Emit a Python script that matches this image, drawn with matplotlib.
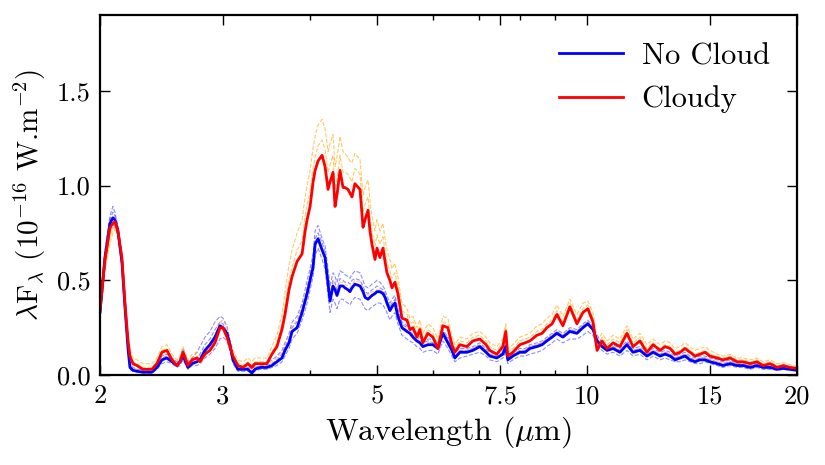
import matplotlib
matplotlib.use('Agg')
import matplotlib.pyplot as plt
from matplotlib.ticker import FixedLocator, NullFormatter

plt.rcParams['font.family'] = 'serif'
plt.rcParams['font.serif'] = ['cmr10', 'DejaVu Serif']
plt.rcParams['mathtext.fontset'] = 'cm'
plt.rcParams['axes.formatter.use_mathtext'] = True

# wavelength grid (micron)
wave = [2.000, 2.033, 2.067, 2.087, 2.101, 2.122, 2.150, 2.172, 2.194, 2.208,
        2.230, 2.260, 2.305, 2.374, 2.414, 2.454, 2.495, 2.537, 2.579, 2.605,
        2.631, 2.675, 2.710, 2.755, 2.782, 2.829, 2.876, 2.924, 2.973, 3.002,
        3.042, 3.072, 3.103, 3.154, 3.207, 3.260, 3.303, 3.336, 3.392, 3.471,
        3.529, 3.588, 3.648, 3.685, 3.734, 3.772, 3.835, 3.899, 3.938, 3.964,
        4.003, 4.043, 4.070, 4.110, 4.165, 4.206, 4.248, 4.276, 4.318, 4.347,
        4.375, 4.419, 4.463, 4.492, 4.537, 4.567, 4.597, 4.642, 4.721, 4.768,
        4.800, 4.847, 4.879, 4.911, 4.960, 4.993, 5.042, 5.093, 5.127, 5.160,
        5.211, 5.246, 5.298, 5.350, 5.422, 5.512, 5.567, 5.622, 5.696, 5.753,
        5.810, 5.906, 6.005, 6.105, 6.207, 6.311, 6.395, 6.458, 6.566, 6.719,
        6.853, 7.012, 7.158, 7.248, 7.417, 7.566, 7.641, 7.692, 7.820, 8.004,
        8.144, 8.272, 8.466, 8.614, 8.750, 8.903, 9.045, 9.227, 9.443, 9.664,
        9.858, 10.02, 10.19, 10.33, 10.50, 10.68, 10.89, 11.14, 11.40, 11.63,
        11.90, 12.18, 12.43, 12.72, 12.93, 13.15, 13.37, 13.59, 13.81, 14.04,
        14.28, 14.51, 14.76, 14.99, 15.36, 15.65, 16.03, 16.40, 16.73, 17.12,
        17.52, 17.87, 18.30, 18.72, 19.10, 19.54, 20.00]

# mean spectra
no_cloud = [.33, .62, .80, .83, .82, .76, .60, .36, .14, .04,
            .025, .02, .015, .015, .04, .08, .09, .07, .05, .07,
            .10, .04, .06, .07, .08, .13, .16, .20, .26, .25,
            .22, .16, .08, .03, .03, .03, .01, .03, .04, .04,
            .05, .07, .09, .13, .17, .23, .25, .33, .39, .43,
            .50, .57, .69, .72, .66, .62, .48, .39, .47, .45,
            .42, .47, .47, .46, .45, .44, .46, .48, .47, .44,
            .41, .40, .41, .42, .43, .44, .44, .43, .41, .38,
            .34, .36, .38, .31, .25, .23, .22, .20, .18, .17,
            .15, .16, .16, .14, .22, .17, .13, .09, .12, .12,
            .13, .15, .12, .10, .09, .11, .15, .08, .10, .12,
            .12, .14, .15, .16, .18, .20, .22, .20, .23, .22,
            .25, .27, .24, .18, .15, .13, .14, .12, .16, .12,
            .13, .10, .12, .10, .11, .10, .08, .09, .10, .08,
            .07, .08, .08, .07, .06, .05, .06, .05, .05, .04,
            .05, .04, .04, .03, .035, .03, .025]

cloudy = [.34, .61, .78, .80, .81, .76, .62, .38, .18, .10,
          .06, .05, .03, .03, .06, .12, .13, .08, .05, .07,
          .12, .05, .08, .09, .07, .11, .13, .17, .25, .25,
          .20, .15, .10, .05, .04, .06, .04, .06, .06, .06,
          .11, .15, .24, .32, .45, .52, .60, .64, .76, .82,
          .89, 1.02, 1.08, 1.13, 1.16, 1.10, .98, 1.02, 1.07, .89,
          .95, 1.08, .99, .99, .98, .96, .94, 1.01, .98, .78,
          .82, .87, .76, .69, .61, .67, .62, .67, .60, .54,
          .50, .46, .49, .43, .30, .29, .24, .25, .20, .24,
          .17, .22, .20, .14, .26, .25, .16, .12, .16, .15,
          .18, .19, .16, .13, .11, .15, .23, .10, .12, .16,
          .17, .18, .21, .22, .25, .27, .32, .26, .36, .27,
          .33, .35, .28, .13, .18, .14, .17, .15, .22, .15,
          .18, .12, .16, .13, .15, .14, .11, .12, .14, .12,
          .10, .11, .12, .10, .09, .08, .09, .07, .07, .06,
          .07, .05, .06, .04, .05, .04, .035]

# individual no-cloud models
nc_model_a = [.35, .66, .84, .89, .86, .79, .62, .37, .15, .06,
              .04, .03, .03, .03, .06, .10, .11, .09, .07, .09,
              .14, .07, .09, .12, .15, .20, .23, .28, .31, .30,
              .26, .18, .10, .05, .04, .05, .03, .05, .06, .06,
              .08, .10, .13, .17, .22, .28, .31, .38, .45, .50,
              .56, .64, .76, .79, .72, .68, .56, .47, .54, .52,
              .49, .55, .54, .53, .52, .51, .53, .55, .54, .50,
              .47, .46, .47, .48, .49, .50, .49, .47, .45, .42,
              .38, .40, .42, .35, .28, .26, .25, .23, .21, .20,
              .18, .19, .19, .17, .24, .20, .16, .12, .14, .14,
              .15, .17, .14, .12, .11, .13, .17, .10, .12, .14,
              .14, .16, .17, .18, .20, .22, .24, .22, .25, .24,
              .27, .29, .26, .21, .17, .15, .16, .14, .18, .14,
              .15, .12, .14, .12, .13, .12, .10, .11, .12, .10,
              .09, .10, .10, .09, .08, .07, .08, .06, .06, .05,
              .06, .05, .05, .04, .045, .04, .03]

nc_model_b = [.30, .58, .76, .79, .79, .73, .57, .33, .12, .03,
              .02, .015, .01, .01, .03, .06, .07, .06, .04, .05,
              .08, .03, .05, .05, .06, .09, .11, .14, .19, .20,
              .18, .13, .06, .02, .02, .02, .01, .02, .03, .03,
              .04, .05, .07, .10, .14, .19, .22, .29, .34, .38,
              .45, .52, .63, .67, .61, .56, .42, .33, .40, .38,
              .35, .40, .40, .39, .38, .37, .39, .41, .40, .37,
              .35, .34, .35, .36, .37, .38, .38, .37, .35, .33,
              .29, .31, .33, .27, .21, .19, .18, .17, .15, .14,
              .12, .13, .13, .11, .18, .14, .10, .07, .09, .10,
              .11, .12, .10, .08, .07, .09, .12, .06, .08, .10,
              .10, .11, .12, .13, .15, .17, .19, .17, .19, .19,
              .21, .23, .21, .15, .13, .11, .12, .10, .13, .10,
              .11, .08, .10, .08, .09, .08, .07, .07, .08, .07,
              .06, .06, .07, .06, .05, .04, .05, .04, .04, .03,
              .04, .03, .03, .025, .03, .025, .02]

nc_model_c = [.32, .63, .82, .86, .84, .77, .61, .35, .13, .05,
              .03, .02, .02, .02, .05, .09, .10, .08, .06, .08,
              .12, .05, .07, .09, .11, .16, .19, .24, .28, .27,
              .23, .16, .08, .03, .03, .04, .02, .04, .05, .05,
              .06, .08, .11, .15, .19, .25, .28, .35, .41, .46,
              .53, .60, .72, .75, .70, .65, .50, .42, .50, .49,
              .45, .51, .50, .49, .49, .48, .50, .51, .50, .47,
              .44, .43, .44, .45, .46, .47, .46, .45, .43, .40,
              .36, .38, .40, .33, .27, .25, .24, .21, .20, .19,
              .17, .18, .17, .15, .23, .19, .15, .10, .13, .13,
              .14, .16, .13, .11, .10, .12, .16, .09, .11, .13,
              .13, .15, .16, .17, .19, .21, .23, .21, .24, .23,
              .26, .28, .25, .19, .16, .14, .15, .13, .17, .13,
              .14, .11, .13, .11, .12, .11, .09, .10, .11, .09,
              .08, .09, .09, .08, .07, .06, .07, .055, .055, .045,
              .055, .045, .045, .035, .04, .035, .028]

# individual cloudy models
cl_model_a = [.33, .58, .74, .78, .80, .77, .64, .41, .21, .13,
              .09, .08, .06, .06, .09, .15, .16, .11, .08, .10,
              .15, .08, .11, .12, .10, .14, .17, .21, .28, .29,
              .25, .19, .13, .08, .07, .09, .07, .09, .09, .09,
              .15, .21, .32, .44, .58, .66, .75, .82, .94, 1.00,
              1.08, 1.20, 1.26, 1.32, 1.35, 1.30, 1.18, 1.22, 1.27, 1.10,
              1.15, 1.26, 1.18, 1.17, 1.15, 1.13, 1.12, 1.17, 1.14, .95,
              .99, 1.03, .92, .84, .76, .82, .76, .80, .72, .66,
              .61, .56, .59, .52, .38, .35, .30, .31, .25, .29,
              .22, .27, .25, .19, .31, .30, .21, .16, .20, .19,
              .22, .23, .20, .17, .15, .19, .27, .14, .16, .20,
              .21, .22, .26, .27, .30, .32, .37, .31, .40, .32,
              .38, .39, .33, .18, .22, .18, .21, .19, .26, .19,
              .22, .16, .19, .16, .18, .17, .14, .15, .17, .15,
              .13, .14, .15, .13, .11, .10, .11, .09, .09, .08,
              .09, .07, .08, .06, .065, .055, .045]

cl_model_b = [.30, .55, .70, .75, .77, .74, .60, .39, .19, .11,
              .07, .06, .04, .04, .07, .13, .14, .09, .06, .08,
              .13, .06, .09, .10, .08, .12, .14, .18, .24, .25,
              .21, .16, .11, .06, .05, .07, .05, .07, .07, .07,
              .12, .17, .27, .37, .50, .57, .66, .71, .84, .90,
              .97, 1.09, 1.15, 1.21, 1.24, 1.19, 1.07, 1.11, 1.16, .98,
              1.03, 1.16, 1.07, 1.07, 1.06, 1.04, 1.02, 1.09, 1.06, .86,
              .90, .94, .83, .76, .68, .74, .69, .73, .66, .60,
              .55, .51, .54, .47, .34, .32, .27, .28, .22, .26,
              .19, .24, .22, .16, .28, .27, .18, .14, .18, .17,
              .20, .21, .18, .15, .13, .17, .25, .12, .14, .18,
              .19, .20, .23, .24, .27, .29, .34, .28, .38, .29,
              .35, .37, .30, .15, .20, .16, .19, .17, .24, .17,
              .20, .14, .17, .14, .16, .15, .12, .13, .15, .13,
              .11, .12, .13, .11, .10, .09, .10, .08, .08, .07,
              .08, .06, .07, .05, .055, .045, .04]

cl_model_c = [.31, .57, .73, .77, .78, .74, .59, .36, .15, .07,
              .04, .03, .025, .025, .05, .10, .11, .08, .06, .08,
              .11, .05, .07, .08, .08, .12, .15, .19, .24, .24,
              .21, .15, .09, .04, .04, .04, .03, .04, .05, .05,
              .07, .09, .12, .16, .21, .26, .29, .36, .42, .46,
              .53, .60, .68, .71, .67, .63, .51, .43, .49, .48,
              .45, .49, .49, .48, .47, .46, .48, .50, .49, .46,
              .43, .42, .43, .44, .44, .45, .45, .44, .42, .39,
              .35, .37, .39, .32, .26, .24, .23, .21, .19, .18,
              .16, .17, .17, .15, .23, .18, .14, .10, .13, .13,
              .14, .16, .13, .11, .10, .12, .16, .09, .11, .13,
              .13, .15, .16, .17, .19, .21, .23, .21, .24, .23,
              .26, .28, .25, .19, .16, .14, .15, .13, .17, .13,
              .14, .11, .13, .11, .12, .11, .09, .10, .11, .09,
              .08, .09, .09, .08, .07, .06, .07, .06, .06, .05,
              .06, .05, .05, .04, .045, .04, .03]

xticks = [2, 3, 5, 7.5, 10, 15, 20]
xtick_labels = ['2', '3', '5', '7.5', '10', '15', '20']
xminor = [4, 6, 7, 8, 9]
yticks = [0.0, 0.5, 1.0, 1.5]

fig = plt.figure(figsize=(8.25, 4.65), dpi=100)
ax = fig.add_axes([0.1212, 0.1935, 0.845, 0.774])

for m in [nc_model_a, nc_model_b, nc_model_c]:
    ax.plot(wave, m, color='blue', lw=0.8, ls='--', alpha=0.45)
for m in [cl_model_a, cl_model_b, cl_model_c]:
    ax.plot(wave, m, color='orange', lw=0.8, ls='--', alpha=0.6)

ax.plot(wave, no_cloud, color='blue', lw=2, label='No Cloud')
ax.plot(wave, cloudy, color='red', lw=2, label='Cloudy')

ax.set_xscale('log')
ax.set_xlim(2, 20)
ax.set_ylim(0, 1.9)
ax.xaxis.set_major_locator(FixedLocator(xticks))
ax.set_xticklabels(xtick_labels)
ax.xaxis.set_minor_locator(FixedLocator(xminor))
ax.xaxis.set_minor_formatter(NullFormatter())
ax.set_yticks(yticks)
ax.set_yticklabels(['%.1f' % v for v in yticks])

ax.tick_params(which='both', direction='in', top=True, right=True, labelsize=19)
ax.tick_params(which='major', length=7, width=1, pad=7)
ax.tick_params(which='minor', length=3.5, width=1)
for s in ax.spines.values():
    s.set_linewidth(1.6)

ax.set_xlabel(r'Wavelength ($\mu$m)', fontsize=23, labelpad=4)
ax.set_ylabel(r'$\lambda$F$_\lambda$ (10$^{-16}$ W.m$^{-2}$)', fontsize=21, labelpad=6)

ax.legend(loc='upper right', frameon=False, fontsize=22, handlelength=2.1,
          handletextpad=0.6, labelspacing=0.5, borderaxespad=0.5)

fig.savefig('out.png', dpi=100)
